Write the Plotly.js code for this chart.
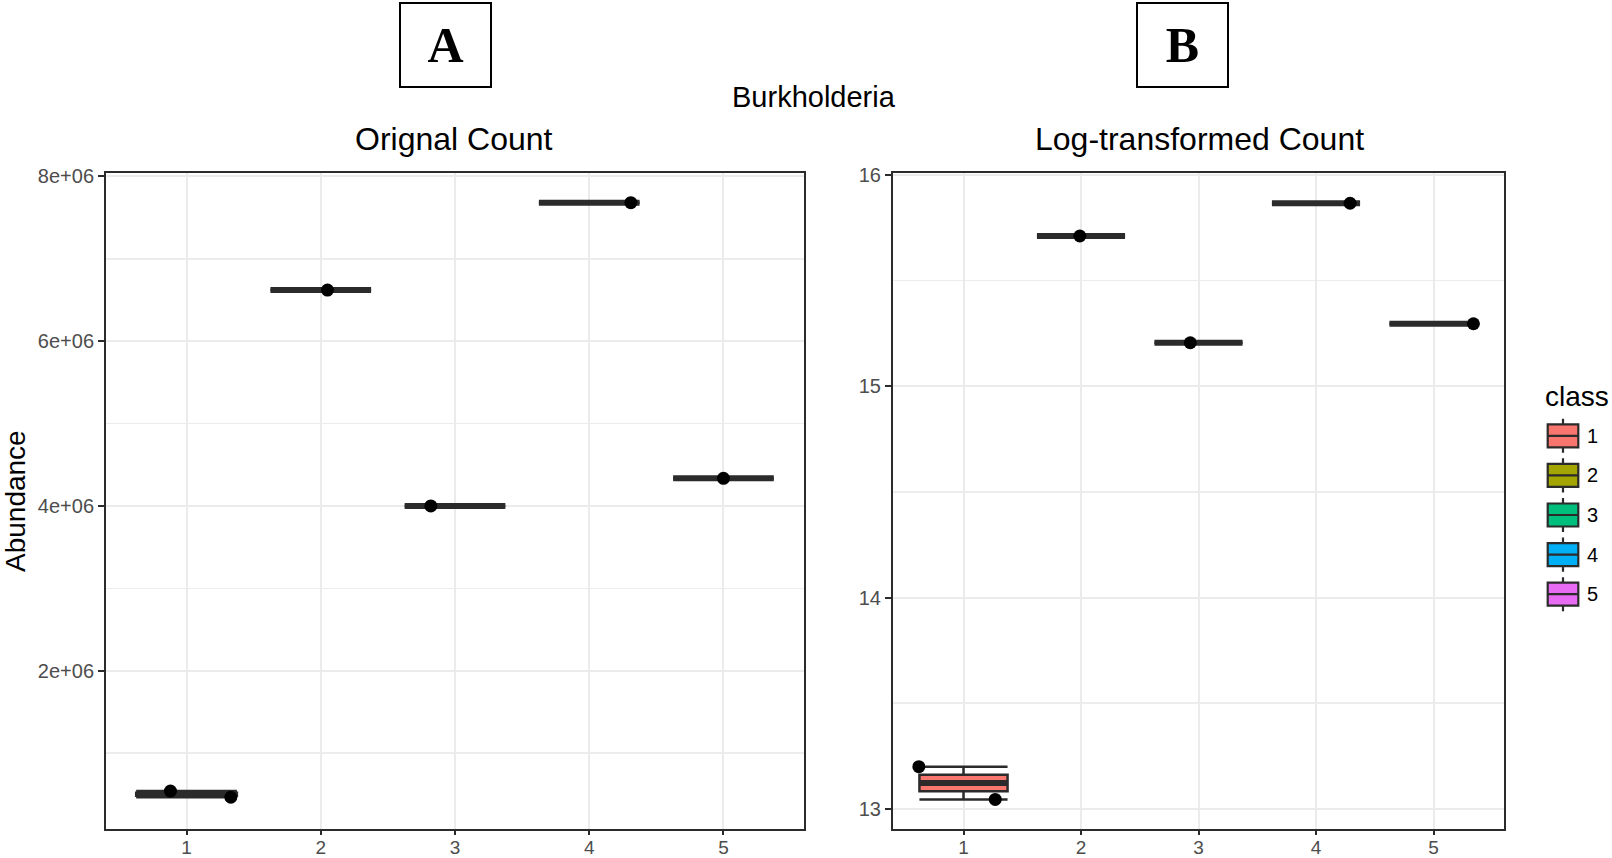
<!DOCTYPE html>
<html>
<head>
<meta charset="utf-8">
<script src="https://cdn.plot.ly/plotly-3.0.1.min.js"></script>
<style>
  html, body { margin: 0; padding: 0; background: #ffffff; }
  #chart { width: 1612px; height: 858px; }
</style>
</head>
<body>
<div id="chart"></div>
<script>
// Burkholderia abundance per class: original counts and natural-log counts
const classes = ['1', '2', '3', '4', '5'];
const classColors = ['#F8766D', '#A3A500', '#00BF7D', '#00B0F6', '#E76BF3'];

// one entry per sample
const sampleClass = [1, 1, 2, 3, 4, 5];
const rawCount = [540000, 465000, 6620000, 4000000, 7680000, 4335000];
const logCount = [13.20, 13.045, 15.71, 15.205, 15.865, 15.295];

// horizontal jitter of each sample's point, per panel
const jitterA = [-0.12, 0.33, 0.05, -0.18, 0.31, 0.0];
const jitterB = [-0.38, 0.27, -0.01, -0.07, 0.29, 0.34];

// axis ticks
const yTickValsA = [2e6, 4e6, 6e6, 8e6];
const yTickTextA = ['2e+06', '4e+06', '6e+06', '8e+06'];
const yMinorA = [1e6, 3e6, 5e6, 7e6];
const yTickValsB = [13, 14, 15, 16];
const yMinorB = [13.5, 14.5, 15.5];

const BOX_W = 0.75;
const FONT = 'Liberation Sans, Arial, sans-serif';
const INK = '#2b2b2b';

// quantile with linear interpolation between order statistics
function quantile(arr, p) {
  const s = arr.slice().sort((a, b) => a - b);
  const h = (s.length - 1) * p;
  const lo = Math.floor(h);
  const hi = Math.min(lo + 1, s.length - 1);
  return s[lo] + (h - lo) * (s[hi] - s[lo]);
}

function panelTraces(values, jitter, xa, ya) {
  const traces = [];
  classes.forEach((c, ci) => {
    const pos = ci + 1;
    const ys = [];
    sampleClass.forEach((k, i) => { if (k === pos) ys.push(values[i]); });
    const q1 = quantile(ys, 0.25), med = quantile(ys, 0.5), q3 = quantile(ys, 0.75);
    const lo = Math.min.apply(null, ys), hi = Math.max.apply(null, ys);
    // box with whisker caps as wide as the box
    traces.push({
      type: 'box',
      name: c,
      showlegend: false,
      x: [pos],
      q1: [q1], median: [med], q3: [q3],
      lowerfence: [lo], upperfence: [hi],
      xaxis: xa, yaxis: ya,
      width: BOX_W,
      whiskerwidth: 1,
      boxpoints: false,
      fillcolor: classColors[ci],
      line: { color: INK, width: 2.5 },
      hoverinfo: 'skip'
    });
    // thicker median bar
    traces.push({
      type: 'scatter', mode: 'lines',
      x: [pos - BOX_W / 2, pos + BOX_W / 2],
      y: [med, med],
      xaxis: xa, yaxis: ya,
      line: { color: INK, width: 6 },
      showlegend: false, hoverinfo: 'skip'
    });
  });
  // jittered sample points
  traces.push({
    type: 'scatter', mode: 'markers',
    x: sampleClass.map((k, i) => k + jitter[i]),
    y: values,
    xaxis: xa, yaxis: ya,
    marker: { color: '#000000', size: 13 },
    showlegend: false, hoverinfo: 'skip'
  });
  return traces;
}

// class key: one small boxplot glyph per class
function keyTraces() {
  return classes.map((c, ci) => {
    const pos = ci + 1;
    return {
      type: 'box', name: c, showlegend: false,
      x: [0],
      q1: [pos - 0.29], median: [pos], q3: [pos + 0.29],
      lowerfence: [pos - 0.43], upperfence: [pos + 0.43],
      xaxis: 'x3', yaxis: 'y3',
      width: 0.9, whiskerwidth: 0, boxpoints: false,
      fillcolor: classColors[ci],
      line: { color: INK, width: 2.2 },
      hoverinfo: 'skip'
    };
  });
}

const data = [].concat(
  panelTraces(rawCount, jitterA, 'x', 'y'),
  panelTraces(logCount, jitterB, 'x2', 'y2'),
  keyTraces()
);

const W = 1612, H = 858;
const px = v => v / W;
const py = v => 1 - v / H;

const commonX = {
  range: [0.4, 5.6],
  tickmode: 'array',
  tickvals: [1, 2, 3, 4, 5],
  ticktext: classes,
  showgrid: true, gridcolor: '#EBEBEB', gridwidth: 2,
  zeroline: false,
  showline: true, mirror: true, linecolor: INK, linewidth: 2,
  ticks: 'outside', ticklen: 4, tickwidth: 2, tickcolor: INK,
  ticklabelstandoff: -4,
  tickfont: { family: FONT, size: 19, color: '#4D4D4D' },
  fixedrange: true
};
const commonY = {
  showgrid: true, gridcolor: '#EBEBEB', gridwidth: 2,
  zeroline: false,
  showline: true, mirror: true, linecolor: INK, linewidth: 2,
  ticks: 'outside', ticklen: 6, tickwidth: 2, tickcolor: INK,
  tickfont: { family: FONT, size: 20, color: '#4D4D4D' },
  fixedrange: true
};
const minorGrid = { showgrid: true, gridcolor: '#EDEDED', gridwidth: 1.6, ticks: '' };

const layout = {
  width: W, height: H,
  margin: { l: 0, r: 0, t: 0, b: 0 },
  paper_bgcolor: '#ffffff',
  plot_bgcolor: '#ffffff',
  hovermode: false,
  boxmode: 'overlay',
  showlegend: false,
  xaxis: Object.assign({}, commonX, { domain: [px(106), px(804)], anchor: 'y' }),
  yaxis: Object.assign({}, commonY, {
    domain: [py(829), py(173)], anchor: 'x',
    range: [0.08e6, 8.04e6],
    tickmode: 'array', tickvals: yTickValsA, ticktext: yTickTextA,
    minor: Object.assign({ tickmode: 'array', tickvals: yMinorA }, minorGrid)
  }),
  xaxis2: Object.assign({}, commonX, { domain: [px(893), px(1504)], anchor: 'y2' }),
  yaxis2: Object.assign({}, commonY, {
    domain: [py(829), py(173)], anchor: 'x2',
    range: [12.905, 16.008],
    tickmode: 'array', tickvals: yTickValsB, ticktext: yTickValsB.map(String),
    minor: Object.assign({ tickmode: 'array', tickvals: yMinorB }, minorGrid)
  }),
  // key area beside the right panel
  xaxis3: {
    domain: [px(1546), px(1580)], anchor: 'y3', range: [-0.5, 0.5],
    visible: false, fixedrange: true
  },
  yaxis3: {
    domain: [py(614), py(416)], anchor: 'x3', side: 'right',
    range: [5.5, 0.5],
    tickmode: 'array', tickvals: [1, 2, 3, 4, 5], ticktext: classes,
    showgrid: false, zeroline: false, showline: false, ticks: '',
    ticklabelstandoff: 6,
    tickfont: { family: FONT, size: 20, color: '#000000' },
    fixedrange: true
  },
  annotations: [
    { text: 'Burkholderia', xref: 'paper', yref: 'paper', x: px(814), y: py(97),
      xanchor: 'center', yanchor: 'middle', showarrow: false,
      font: { family: FONT, size: 29, color: '#000000' } },
    { text: 'Orignal Count', xref: 'paper', yref: 'paper', x: px(454), y: py(139),
      xanchor: 'center', yanchor: 'middle', showarrow: false,
      font: { family: FONT, size: 32, color: '#000000' } },
    { text: 'Log-transformed Count', xref: 'paper', yref: 'paper', x: px(1199), y: py(139),
      xanchor: 'center', yanchor: 'middle', showarrow: false,
      font: { family: FONT, size: 32, color: '#000000' } },
    { text: 'Abundance', xref: 'paper', yref: 'paper', x: px(15), y: py(501),
      xanchor: 'center', yanchor: 'middle', showarrow: false, textangle: -90,
      font: { family: FONT, size: 28, color: '#000000' } },
    { text: 'class', xref: 'paper', yref: 'paper', x: px(1543), y: py(396),
      xanchor: 'left', yanchor: 'middle', showarrow: false,
      font: { family: FONT, size: 28, color: '#000000' } },
    { text: '<b>A</b>', xref: 'paper', yref: 'paper', x: px(445.5), y: py(45),
      xanchor: 'center', yanchor: 'middle', showarrow: false,
      width: 89, height: 82, align: 'center', valign: 'middle',
      bordercolor: '#000000', borderwidth: 2, borderpad: 0,
      font: { family: 'Liberation Serif, Times New Roman, serif', size: 50, color: '#000000' } },
    { text: '<b>B</b>', xref: 'paper', yref: 'paper', x: px(1182.5), y: py(45),
      xanchor: 'center', yanchor: 'middle', showarrow: false,
      width: 89, height: 82, align: 'center', valign: 'middle',
      bordercolor: '#000000', borderwidth: 2, borderpad: 0,
      font: { family: 'Liberation Serif, Times New Roman, serif', size: 50, color: '#000000' } }
  ]
};

Plotly.newPlot('chart', data, layout, { displayModeBar: false, staticPlot: true });
</script>
</body>
</html>
